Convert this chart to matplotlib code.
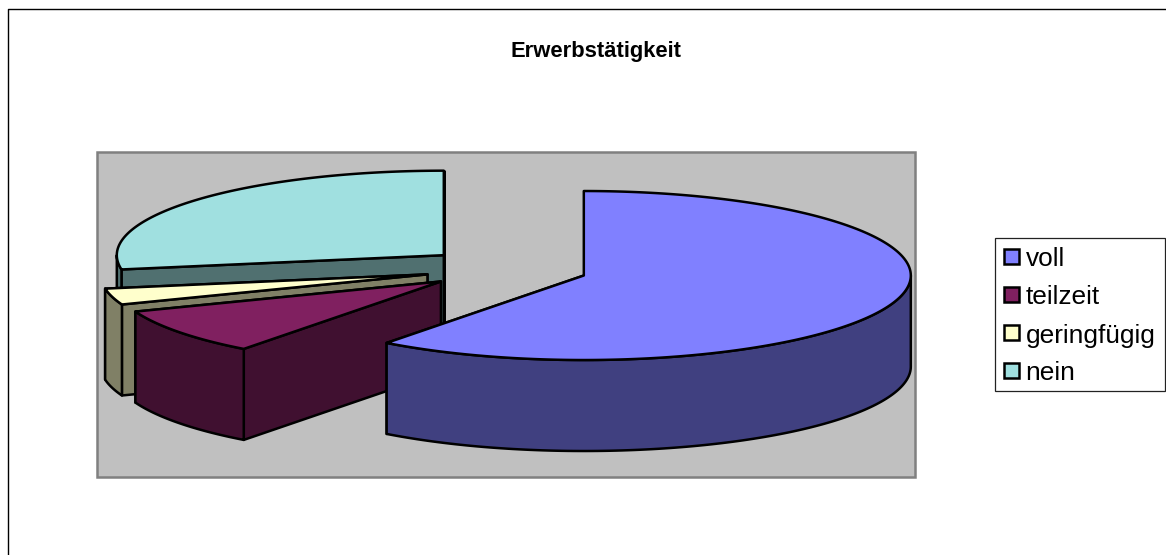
import numpy as np
import matplotlib
matplotlib.use('Agg')
import matplotlib.pyplot as plt
from matplotlib.patches import Polygon, Rectangle

plt.rcParams['font.family'] = ['Liberation Sans', 'DejaVu Sans']

# data
labels = ['voll', 'teilzeit', 'geringfügig', 'nein']
values = [60.3, 8.9, 3.1, 27.7]
top_colors = ['#8080FF', '#802060', '#FFFFCC', '#A0E0E0']
side_colors = ['#404080', '#401030', '#808066', '#507070']

# geometry of the fake 3d pie, in pixels
cx, cy = 506.3, 268.8
rx, ry = 327, 84.5
depth = 91
explode = 0.25
lw = 1.8

fig = plt.figure(figsize=(11.66, 5.55), dpi=100)
ax = fig.add_axes([0, 0, 1, 1])
ax.set_xlim(0, 1166)
ax.set_ylim(555, 0)
ax.axis('off')

# outer frame, only left and top are in the picture
ax.plot([7.5, 7.5, 1166], [555, 8.5, 8.5], color='black', lw=1.0, zorder=1)

# plot area
ax.add_patch(Rectangle((97, 152), 818, 325, fc='#C0C0C0', ec='#808080', lw=1.8, zorder=1))


def pt(theta, ox, oy, dz=0):
    # theta in degrees, clockwise from 12 o'clock
    t = np.radians(theta)
    return ox + rx * np.sin(t), oy - ry * np.cos(t) + dz


def draw_wedge(a0, a1, top, side, z):
    mid = np.radians((a0 + a1) / 2)
    ox = cx + explode * rx * np.sin(mid)
    oy = cy - explode * ry * np.cos(mid)

    # cut faces, back one first
    for a in (a1, a0):
        x, y = pt(a, ox, oy)
        cut = [(ox, oy), (x, y), (x, y + depth), (ox, oy + depth)]
        ax.add_patch(Polygon(cut, closed=True, fc=side, ec='black', lw=lw, joinstyle='round', zorder=z))

    # outer wall, front half of the ellipse only
    s0, s1 = max(a0, 90), min(a1, 270)
    if s1 > s0:
        th = np.linspace(s0, s1, 120)
        xs, ys = pt(th, ox, oy)
        wall = list(zip(xs, ys)) + list(zip(xs[::-1], ys[::-1] + depth))
        ax.add_patch(Polygon(wall, closed=True, fc=side, ec='black', lw=lw, joinstyle='round', zorder=z))

    # top face
    th = np.linspace(a0, a1, 240)
    xs, ys = pt(th, ox, oy)
    face = [(ox, oy)] + list(zip(xs, ys))
    ax.add_patch(Polygon(face, closed=True, fc=top, ec='black', lw=lw, joinstyle='round', zorder=z))


angles = np.cumsum([0] + values) / sum(values) * 360
order = [3, 2, 1, 0]
for n, i in enumerate(order):
    draw_wedge(angles[i], angles[i + 1], top_colors[i], side_colors[i], 2 + n)

ax.text(595.5, 51, 'Erwerbstätigkeit', ha='center', va='center', fontsize=15.8, fontweight='bold', zorder=10)

# legend
ax.add_patch(Rectangle((995, 238), 170, 153, fc='white', ec='#222222', lw=0.9, zorder=8))
for i, lab in enumerate(labels):
    y = 257 + i * 38
    ax.add_patch(Rectangle((1003.5, y - 8), 15, 15, fc=top_colors[i], ec='black', lw=1.8, zorder=9))
    ax.text(1025.5, y, lab, ha='left', va='center_baseline', fontsize=18.9, zorder=9)

fig.savefig('out.png', dpi=100, facecolor='white')
